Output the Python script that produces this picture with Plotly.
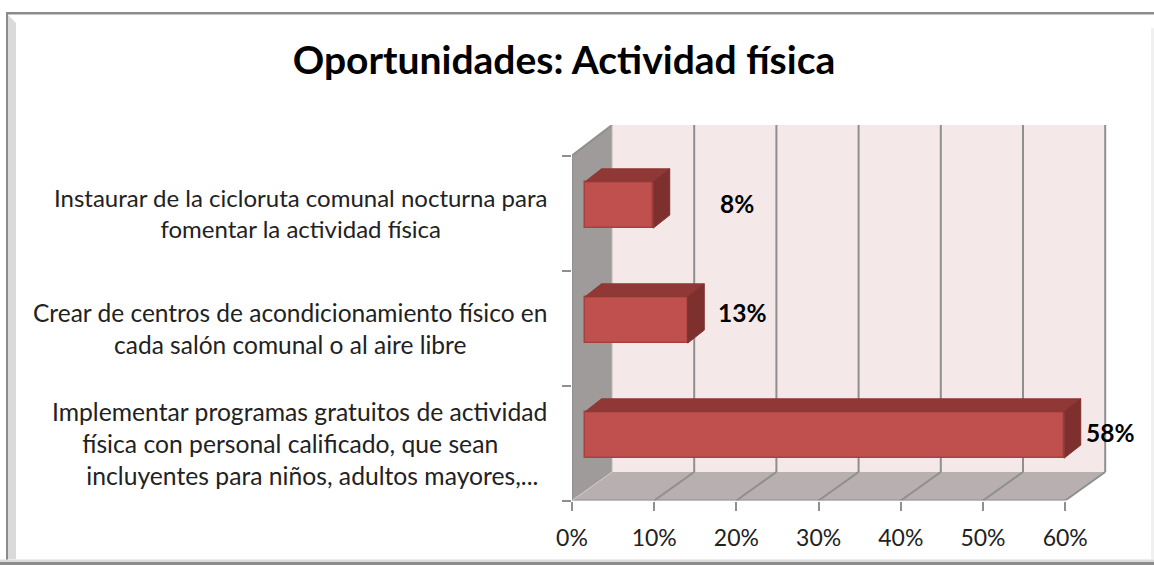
import plotly.graph_objects as go

# ---- data ----
title = "Oportunidades: Actividad física"
categories = [
    "Implementar programas gratuitos de actividad<br>física con personal calificado, que sean   <br>\u00a0\u00a0\u00a0\u00a0incluyentes para niños, adultos mayores,...",
    "Crear de centros de acondicionamiento físico en<br>cada salón comunal o al aire libre",
    "Instaurar de la cicloruta comunal nocturna para<br>fomentar la actividad física",
]
values = [58.3, 12.5, 8.3]
value_labels = ["58%", "13%", "8%"]
x_ticks = [0, 10, 20, 30, 40, 50, 60]
x_tick_labels = ["0%", "10%", "20%", "30%", "40%", "50%", "60%"]

# ---- geometry / style ----
W, H = 1154, 565
PX_X = 8.22      # pixels per percent
PX_Y = 115.0     # pixels per category band
L, R, T, B = 572, 1146, 125, 500.5
WALL_DX = 40 / PX_X
WALL_DY = 28.5 / PX_Y
WALL_TOP = (B - T) / PX_Y
BAR_BASE = 13 / PX_X
BAR_W = 46.3 / PX_Y
BAR_OFF = 0.57
DX = 16.5 / PX_X
DY = 13 / PX_Y
LABEL_DX = [5.6, 6.6, 10.15]   # label offset right of the bar end, percent units
LABEL_DY = [0.02, 0.065, 0.01]
CATEGORY_SIZES = [24.7, 24.5, 24.0]
FONT = "Lato, Carlito, Calibri, sans-serif"
TXT = "#222222"
GRID = "#8f8f8f"

fig = go.Figure()

ys = [i + BAR_OFF for i in range(len(values))]
fig.add_bar(
    y=ys, x=values, base=BAR_BASE, orientation="h", width=BAR_W,
    marker=dict(color="#c0504d", line=dict(color="#a8403d", width=1.5)),
    showlegend=False,
)
for v, y in zip(values, ys):
    x1 = BAR_BASE + v
    x0 = BAR_BASE
    t = y + BAR_W / 2
    b = y - BAR_W / 2
    fig.add_scatter(
        x=[x0, x0 + DX, x1 + DX, x1, x0], y=[t, t + DY, t + DY, t, t],
        mode="lines", fill="toself", fillcolor="#8f3835",
        line=dict(color="#8f3835", width=1), hoverinfo="skip", showlegend=False,
    )
    fig.add_scatter(
        x=[x1, x1 + DX, x1 + DX, x1, x1], y=[t, t + DY, b + DY, b, t],
        mode="lines", fill="toself", fillcolor="#7e302e",
        line=dict(color="#7e302e", width=1), hoverinfo="skip", showlegend=False,
    )

def line(x0, y0, x1, y1, color=GRID, width=2):
    return dict(type="line", xref="x", yref="y", x0=x0, y0=y0, x1=x1, y1=y1,
                layer="below", line=dict(color=color, width=width))

def poly(points, color):
    path = "M " + " L ".join(f"{x},{y}" for x, y in points) + " Z"
    return dict(type="path", xref="x", yref="y", path=path, fillcolor=color,
                layer="below", line=dict(width=0))

def chrome(x0, y0, x1, y1, color):
    return dict(type="rect", xref="paper", yref="paper", x0=x0 / W, x1=x1 / W,
                y0=1 - y1 / H, y1=1 - y0 / H, fillcolor=color, line=dict(width=0), layer="below")

xmax = x_ticks[-1]
ytop = len(values)
shapes = [
    # picture frame
    chrome(6, 12, 8, 565, "#8c8c8c"),
    chrome(6, 12, W, 14.5, "#8c8c8c"),
    chrome(0, 562, W, 565, "#8c8c8c"),
    chrome(0, 559.5, W, 562, "#dcdcdc"),
    dict(type="path", xref="paper", yref="paper", layer="below", fillcolor="#dadada", line=dict(width=0),
         path=f"M {8/W},{1-15/H} L {16/W},{1-23/H} L {16/W},{1-559/H} L {8/W},{1-559/H} Z"),
    chrome(1151, 28, 1154, 559, "#f0f0f0"),
    # walls
    poly([(WALL_DX, WALL_DY), (xmax + WALL_DX, WALL_DY), (xmax + WALL_DX, WALL_TOP), (WALL_DX, WALL_TOP)], "#f4e8e8"),
    poly([(0, 0), (WALL_DX, WALL_DY), (WALL_DX, WALL_TOP), (0, ytop)], "#a09b9b"),
    poly([(0, 0), (xmax, 0), (xmax + WALL_DX, WALL_DY), (WALL_DX, WALL_DY)], "#b8b0b0"),
    # axes
    line(0, 0, 0, ytop),
    line(0, 0, xmax, 0),
    line(0, ytop, WALL_DX, WALL_TOP),
    line(WALL_DX, WALL_DY, WALL_DX, WALL_TOP, "#bdb6b6", 1),
    line(0, 0, WALL_DX, WALL_DY, "#d0caca", 1),
]
for k in x_ticks[1:]:
    shapes.append(line(k + WALL_DX, WALL_DY, k + WALL_DX, WALL_TOP))
    shapes.append(line(k, 0, k + WALL_DX, WALL_DY))

annotations = []
for i, (c, size) in enumerate(zip(categories, CATEGORY_SIZES)):
    annotations.append(dict(
        text=c, xref="paper", yref="y", x=549 / W, y=i + 0.5, xanchor="right", yanchor="middle",
        align="center", showarrow=False, font=dict(family=FONT, size=size, color=TXT),
    ))
for v, y, s, dx, dy in zip(values, ys, value_labels, LABEL_DX, LABEL_DY):
    annotations.append(dict(
        text=f"<b>{s}</b>", x=BAR_BASE + v + dx, y=y + dy, xref="x", yref="y",
        showarrow=False, font=dict(family=FONT, size=24.5, color="#000000"),
    ))

fig.update_layout(
    width=W, height=H, autosize=False,
    margin=dict(l=0, r=0, t=0, b=0),
    paper_bgcolor="#ffffff", plot_bgcolor="rgba(0,0,0,0)",
    showlegend=False, bargap=0,
    title=dict(text=f"<b>{title}</b>", x=564 / W, xanchor="center", y=1 - 60 / H, yanchor="middle",
               font=dict(family=FONT, size=39, color="#000000")),
    xaxis=dict(
        domain=[L / W, R / W], range=[0, (R - L) / PX_X], showgrid=False, zeroline=False,
        showline=False, tickmode="array", tickvals=x_ticks, ticktext=x_tick_labels,
        ticks="outside", ticklen=9, tickwidth=2, tickcolor=GRID, automargin=False,
        tickfont=dict(family=FONT, size=23, color=TXT), ticklabelstandoff=8,
    ),
    yaxis=dict(
        domain=[1 - B / H, 1 - T / H], range=[0, (B - T) / PX_Y], showgrid=False, zeroline=False,
        showline=False, tickmode="array", tickvals=[0, 1, 2, 3], showticklabels=False,
        ticks="outside", ticklen=9, tickwidth=2, tickcolor=GRID, automargin=False,
    ),
    shapes=shapes, annotations=annotations,
)

fig.write_html("out.html", config={"displayModeBar": False}, post_script="document.body.style.margin='0';")
